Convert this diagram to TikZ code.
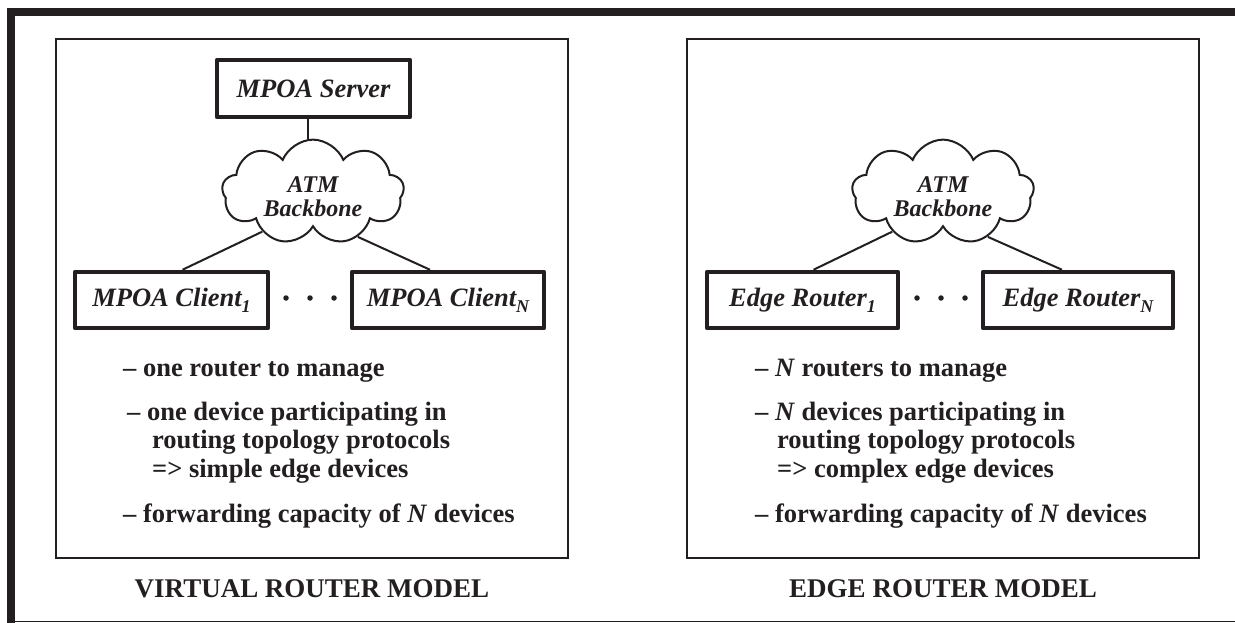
\documentclass[tikz,border=0pt]{standalone}
\usepackage{fontspec}
\setmainfont{Liberation Serif}
\usetikzlibrary{shapes.symbols}
\definecolor{ink}{HTML}{231F20}
% lowered, smaller index after a device name
\newcommand\lowsub[1]{\raisebox{-0.22em}{\fontsize{18}{18}\selectfont #1}}

\begin{document}
\begin{tikzpicture}[x=1pt,y=-1pt,
  panelbox/.style={draw=ink, line width=2.4pt, inner sep=0pt},
  devbox/.style={draw=ink, line width=4.5pt, line join=round, inner sep=0pt,
    minimum height=56pt, text=ink,
    font=\fontsize{26.5}{30}\selectfont\bfseries\itshape},
  atmcloud/.style={cloud, cloud puffs=9, cloud puff arc=135, aspect=1.8,
    draw=ink, line width=2pt, minimum width=182pt, minimum height=104pt,
    inner sep=0pt, align=center, text=ink,
    font=\fontsize{24}{24}\selectfont\bfseries\itshape},
  linkline/.style={draw=ink, line width=2pt},
  itemtext/.style={anchor=base west, inner sep=0pt, text=ink,
    font=\fontsize{26.5}{28}\selectfont\bfseries},
  modelcaption/.style={anchor=base, inner sep=0pt, text=ink,
    font=\fontsize{27}{28}\selectfont\bfseries},
  ellipsisdot/.style={circle, fill=ink, inner sep=0pt, minimum size=5.5pt}
]
\useasboundingbox (0,0) rectangle (1235,623);

% outer frame: heavy top and left rule, thin bottom rule
\draw[ink, line width=7.5pt] (1235,12) -- (11,12) -- (11,623);
\draw[ink, line width=1.5pt] (7,621.5) -- (1235,621.5);

% ---------- virtual router model ----------
\node[panelbox, minimum width=512pt, minimum height=519pt] (panelL) at (312,298.5) {};

\node[devbox, minimum width=193pt, minimum height=57pt] (server) at (313.5,88.5) {MPOA Server};
\node[atmcloud] (cloudL) at (313,192) {\rule{0pt}{26pt}ATM\\Backbone};
\node[devbox, minimum width=193pt] (client1) at (171.5,300) {MPOA Client\lowsub{1}};
\node[devbox, minimum width=192pt] (clientN) at (448,300) {MPOA Client\lowsub{N}};

\draw[linkline] ([xshift=-6pt]server.south) -- ([xshift=-6pt]server.south |- cloudL.north);
\draw[linkline] (cloudL.218) -- ([xshift=11pt]client1.north);
\draw[linkline] (cloudL.315) -- ([xshift=-18pt]clientN.north);

\node[ellipsisdot] (dl1) at (286,298) {};
\node[ellipsisdot] (dl2) at (310,298) {};
\node[ellipsisdot] (dl3) at (334,298) {};

\node[itemtext] (l1) at (123,376) {– one router to manage};
\node[itemtext] (l2) at (127,420) {– one device participating in};
\node[itemtext] (l3) at (152,448.5) {routing topology protocols};
\node[itemtext] (l4) at (152,477) {=> simple edge devices};
\node[itemtext] (l5) at (123,522) {– forwarding capacity of \textit{N} devices};

\node[modelcaption] (capL) at (312,597) {VIRTUAL ROUTER MODEL};

% ---------- edge router model ----------
\node[panelbox, minimum width=512pt, minimum height=519pt] (panelR) at (943,298.5) {};

\node[atmcloud] (cloudR) at (943,192) {\rule{0pt}{26pt}ATM\\Backbone};
\node[devbox, minimum width=191pt] (edge1) at (802.5,300) {Edge Router\lowsub{1}};
\node[devbox, minimum width=190pt] (edgeN) at (1078,300) {Edge Router\lowsub{N}};

\draw[linkline] (cloudR.218) -- ([xshift=11pt]edge1.north);
\draw[linkline] (cloudR.315) -- ([xshift=-16pt]edgeN.north);

\node[ellipsisdot] (dr1) at (917,298) {};
\node[ellipsisdot] (dr2) at (941,298) {};
\node[ellipsisdot] (dr3) at (965,298) {};

\node[itemtext] (r1) at (755,376) {– \textit{N} routers to manage};
\node[itemtext] (r2) at (755,420) {– \textit{N} devices participating in};
\node[itemtext] (r3) at (777,448.5) {routing topology protocols};
\node[itemtext] (r4) at (777,477) {=> complex edge devices};
\node[itemtext] (r5) at (755,522) {– forwarding capacity of \textit{N} devices};

\node[modelcaption] (capR) at (943,597) {EDGE ROUTER MODEL};
\end{tikzpicture}
\end{document}
